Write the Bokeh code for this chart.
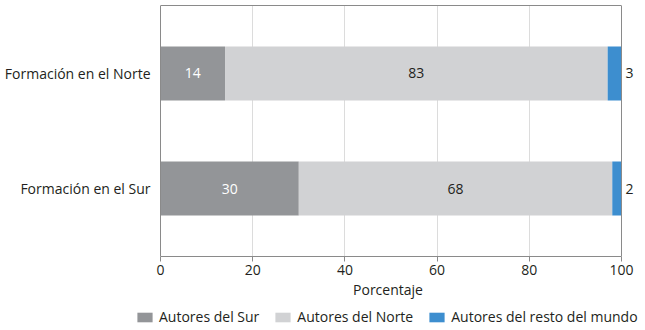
from bokeh.plotting import figure
from bokeh.models import (ColumnDataSource, FactorRange, Legend, LegendItem, FixedTicker,
                          Range1d, Span, LinearAxis)
from bokeh.layouts import column
from bokeh.core.properties import value
from bokeh.embed import file_html
from bokeh.resources import INLINE

categories = ["Formación en el Sur", "Formación en el Norte"]
sur = [30, 14]
norte = [68, 83]
resto = [2, 3]
series_names = ["Autores del Sur", "Autores del Norte", "Autores del resto del mundo"]
x_ticks = [0, 20, 40, 60, 80, 100]
x_min, x_max = 0, 100

FONT = "Open Sans"
TXT = "#231f20"
AXC = "#8a8a8a"
colors = ["#939598", "#d1d2d4", "#3d8ecf"]

PX = 4.61                     # pixels per percentage point
LEFT_PAD = 25                 # frame starts 25 px left of the zero line
FRAME_W = 505
x_start = -LEFT_PAD / PX
xr = Range1d(x_start, x_start + FRAME_W / PX)

src = ColumnDataSource(dict(cat=categories, sur=sur, norte=norte, resto=resto))
yr = FactorRange(*categories, range_padding=0.0913, factor_padding=0)

p = figure(frame_width=FRAME_W, frame_height=251, y_range=yr, x_range=xr,
           output_backend="svg", toolbar_location=None,
           min_border_left=135, min_border_right=0, min_border_top=5, min_border_bottom=47)
p.outline_line_color = None

rs = p.hbar_stack(["sur", "norte", "resto"], y="cat", height=0.47, color=colors,
                  line_color=None, source=src)

# labels
lx, ly, lt, lc, la, lo = [], [], [], [], [], []
for i, c in enumerate(categories):
    lx.append(sur[i] / 2); ly.append(c); lt.append(str(sur[i])); lc.append("white"); la.append("center"); lo.append(0)
    lx.append(sur[i] + norte[i] / 2); ly.append(c); lt.append(str(norte[i])); lc.append(TXT); la.append("center"); lo.append(0)
    lx.append(sur[i] + norte[i] + resto[i]); ly.append(c); lt.append(str(resto[i])); lc.append(TXT); la.append("left"); lo.append(4)
lsrc = ColumnDataSource(dict(x=lx, y=ly, t=lt, c=lc, a=la, o=lo))
p.text(x="x", y="y", text="t", text_color="c", text_align="a", x_offset="o",
       text_baseline="middle", text_font=value(FONT), text_font_size="14px", source=lsrc)

p.ygrid.grid_line_color = None
p.xgrid.grid_line_color = "#dcdcdc"
p.xgrid.ticker = FixedTicker(ticks=x_ticks[1:-1])
p.add_layout(Span(location=x_max, dimension="height", line_color=AXC, line_width=1))
p.add_layout(Span(location=x_min, dimension="height", line_color=AXC, line_width=1))

xa = p.xaxis[0]
xa.bounds = (x_min, x_max)
xa.ticker = FixedTicker(ticks=x_ticks)
xa.axis_label = "Porcentaje"
xa.axis_label_text_font = FONT
xa.axis_label_text_font_style = "normal"
xa.axis_label_text_font_size = "14px"
xa.axis_label_text_color = TXT
xa.axis_label_standoff = 2
xa.major_label_text_font = FONT
xa.major_label_text_font_size = "14px"
xa.major_label_text_color = TXT
xa.major_label_standoff = 3
xa.major_tick_out = 5
xa.major_tick_in = 0
xa.minor_tick_line_color = None
xa.axis_line_color = AXC
xa.major_tick_line_color = AXC

top = LinearAxis(bounds=(x_min, x_max), ticker=FixedTicker(ticks=[]), axis_line_color=AXC,
                 major_tick_line_color=None, minor_tick_line_color=None,
                 major_tick_out=0, major_tick_in=0, major_label_standoff=0,
                 major_label_text_font_size="1px")
p.add_layout(top, "above")

ya = p.yaxis[0]
ya.major_label_text_font = FONT
ya.major_label_text_font_size = "14px"
ya.major_label_text_color = TXT
ya.major_label_standoff = 10 - LEFT_PAD
ya.major_tick_out = 0
ya.major_tick_in = 0
ya.major_tick_line_color = None
ya.axis_line_color = None

# legend strip below the chart
lg = figure(frame_width=FRAME_W, height=26, x_range=xr, y_range=yr,
            x_axis_location=None, y_axis_location=None,
            output_backend="svg", toolbar_location=None, min_border=0,
            min_border_left=135, min_border_right=0)
lg.outline_line_color = None
lg.grid.grid_line_color = None
lrs = lg.hbar_stack(["sur", "norte", "resto"], y="cat", height=0.47, color=colors,
                    line_color=None, source=src)
for r in lrs:
    r.visible = False

legend = Legend(items=[LegendItem(label=n, renderers=[r]) for n, r in zip(series_names, lrs)],
                orientation="horizontal", location=(0, 3),
                label_text_font=FONT, label_text_font_size="14px", label_text_color=TXT,
                glyph_width=19, glyph_height=12, spacing=14, label_standoff=5,
                border_line_color=None, background_fill_alpha=0, padding=0, margin=0,
                inactive_fill_alpha=0)
lg.add_layout(legend)

layout = column(p, lg, spacing=0)
open("out.html", "w").write(file_html(layout, INLINE))
